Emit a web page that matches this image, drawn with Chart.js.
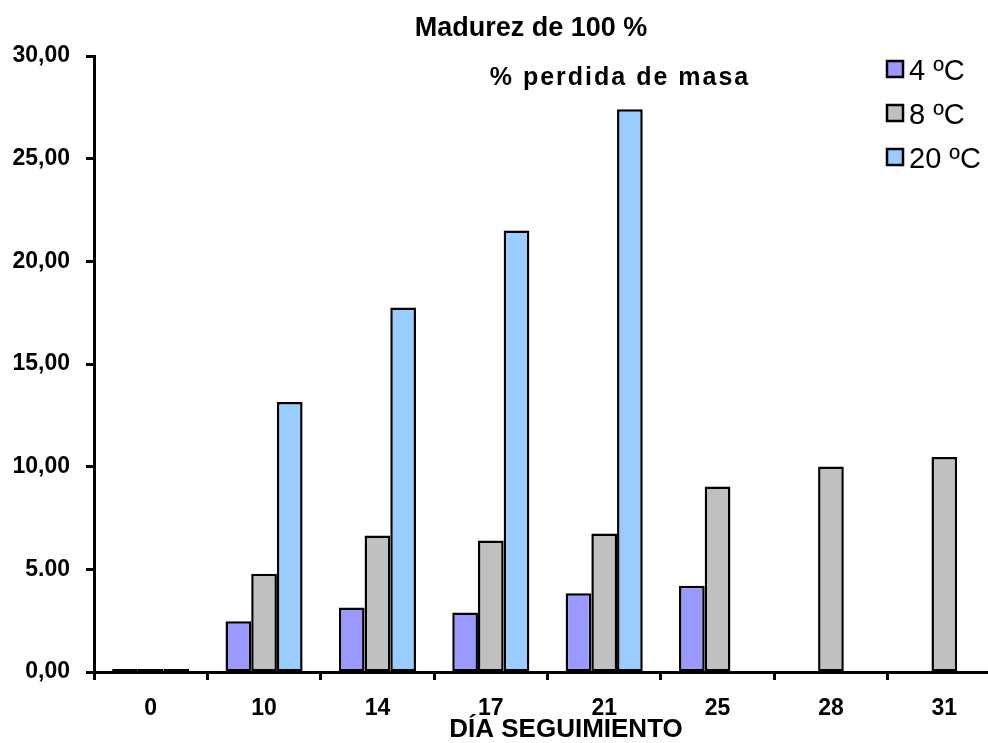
<!DOCTYPE html>
<html>
<head>
<meta charset="utf-8">
<script src="https://cdn.jsdelivr.net/npm/chart.js@4/dist/chart.umd.min.js"></script>
<style>
  html, body { margin: 0; padding: 0; background: #fff; overflow: hidden; }
  #wrap { position: relative; width: 988px; height: 743px; overflow: hidden; }
  canvas { display: block; }
</style>
</head>
<body>
<div id="wrap"><canvas id="c" width="1001" height="743"></canvas></div>
<script>
// Días de seguimiento
const dias = ['0', '10', '14', '17', '21', '25', '28', '31'];

// % pérdida de masa por temperatura de almacenamiento
const serie4C  = [0.15, 2.47, 3.14, 2.90, 3.83, 4.20, null, null];
const serie8C  = [0.15, 4.78, 6.65, 6.40, 6.75, 9.04, 10.01, 10.47];
const serie20C = [0.15, 13.15, 17.75, 21.50, 27.41, null, null, null];

const etiquetasSerie = ['4 \u00BAC', '8 \u00BAC', '20 \u00BAC'];
const etiquetasY = ['0,00', '5.00', '10,00', '15,00', '20,00', '25,00', '30,00'];

const titulo = 'Madurez de 100 %';
const subtitulo = '% perdida de masa';
const tituloX = 'D\u00CDA SEGUIMIENTO';

const colores = ['#9999FF', '#C0C0C0', '#99CCFF'];

// Títulos y leyenda dibujados sobre el lienzo
const textos = {
  id: 'textos',
  afterDraw(chart) {
    const ctx = chart.ctx;
    ctx.save();
    ctx.fillStyle = '#000';
    ctx.textBaseline = 'alphabetic';

    ctx.font = 'bold 27px "Liberation Sans", Arial, sans-serif';
    ctx.textAlign = 'center';
    ctx.fillText(titulo, 531, 36);

    ctx.font = 'bold 25px "Liberation Sans", Arial, sans-serif';
    ctx.letterSpacing = '2px';
    ctx.fillText(subtitulo, 620, 85);
    ctx.letterSpacing = '0px';

    ctx.font = 'bold 26px "Liberation Sans", Arial, sans-serif';
    ctx.fillText(tituloX, 566, 737);

    // leyenda vertical
    ctx.textAlign = 'left';
    ctx.font = '29px "Liberation Sans", Arial, sans-serif';
    chart.data.datasets.forEach((ds, i) => {
      const cy = 69 + i * 44;
      ctx.fillStyle = ds.backgroundColor;
      ctx.fillRect(887, cy - 8, 16, 16);
      ctx.strokeStyle = '#000';
      ctx.lineWidth = 2.5;
      ctx.strokeRect(887, cy - 8, 16, 16);
      ctx.fillStyle = '#000';
      ctx.fillText(ds.label, 909, cy + 11);
    });
    ctx.restore();
  }
};

const fuenteEje = { family: '"Liberation Sans", Arial, sans-serif', size: 23, weight: 'bold' };

new Chart(document.getElementById('c'), {
  type: 'bar',
  data: {
    labels: dias,
    datasets: [serie4C, serie8C, serie20C].map((d, i) => ({
      label: etiquetasSerie[i],
      data: d,
      backgroundColor: colores[i],
      borderColor: '#000',
      borderWidth: 2.5,
      borderSkipped: false,
      categoryPercentage: 0.68,
      barPercentage: 1.0
    }))
  },
  options: {
    responsive: false,
    animation: false,
    devicePixelRatio: 1,
    layout: { padding: { top: 56, right: 0, bottom: 0, left: 0 } },
    plugins: {
      legend: { display: false },
      title: { display: false },
      tooltip: { enabled: false }
    },
    scales: {
      x: {
        afterFit(scale) { scale.height = 71; },
        grid: {
          offset: true,
          drawOnChartArea: false,
          drawTicks: true,
          tickLength: 8,
          tickWidth: 3,
          tickColor: '#000'
        },
        border: { display: true, color: '#000', width: 3 },
        ticks: { color: '#000', font: fuenteEje, padding: 15, maxRotation: 0 }
      },
      y: {
        min: 0,
        max: 30,
        afterFit(scale) { scale.width = 94; },
        grid: {
          drawOnChartArea: false,
          drawTicks: true,
          tickLength: 8,
          tickWidth: 3,
          tickColor: '#000'
        },
        border: { display: true, color: '#000', width: 3 },
        ticks: {
          stepSize: 5,
          color: '#000',
          font: fuenteEje,
          padding: 16,
          callback: (v, i) => etiquetasY[i]
        }
      }
    }
  },
  plugins: [textos]
});
</script>
</body>
</html>
